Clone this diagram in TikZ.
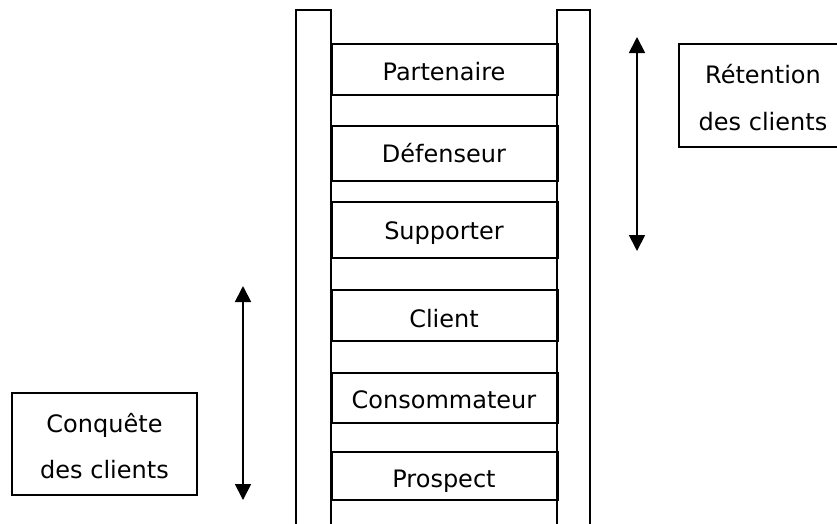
\documentclass[tikz,border=0pt]{standalone}
\usepackage{fontspec}
\setmainfont{DejaVu Sans}
\usetikzlibrary{arrows.meta}
\begin{document}
\begin{tikzpicture}[x=1pt,y=-1pt,line width=1.8pt,
  lbl/.style={font=\fontsize{24}{46}\selectfont,inner sep=0pt},
  rung/.style={draw,minimum width=226pt,inner sep=0pt,anchor=north west},
  txt/.style={lbl,anchor=base},
  sidebox/.style={lbl,align=center,anchor=base},
  dbl/.style={{Triangle[width=16pt,length=16pt]}-{Triangle[width=16pt,length=16pt]}}]
\useasboundingbox (0,0) rectangle (837,523);
% rails
\draw (296,530) -- (296,10) -- (331,10) -- (331,530);
\draw (557,530) -- (557,10) -- (590,10) -- (590,530);
% rungs
\node[rung,minimum height=51pt] (r1) at (331,43) {};
\node[rung,minimum height=55pt] (r2) at (331,125) {};
\node[rung,minimum height=56pt] (r3) at (331,201) {};
\node[rung,minimum height=51pt] (r4) at (331,289) {};
\node[rung,minimum height=50pt] (r5) at (331,372) {};
\node[rung,minimum height=48pt] (r6) at (331,451) {};
\node[txt] (partenaire) at (444,80) {Partenaire};
\node[txt] (defenseur) at (444,162) {Défenseur};
\node[txt] (supporter) at (444,239) {Supporter};
\node[txt] (client) at (444,327) {Client};
\node[txt] (consommateur) at (444,408) {Consommateur};
\node[txt] (prospect) at (444,487) {Prospect};
% retention box (clipped at right)
\node[sidebox] (retention) at (763,83) {Rétention};
\node[sidebox] (retention2) at (763,130) {des clients};
\draw (837,44) -- (679,44) -- (679,147) -- (837,147);
% conquete box
\draw (12,393) rectangle (197,495);
\node[sidebox] (conquete) at (104.5,432) {Conquête};
\node[sidebox] (conquete2) at (104.5,478) {des clients};
% arrows
\coordinate (rtop) at (637,37);
\coordinate (rbot) at (637,251);
\draw[dbl] (rtop) -- (rbot);
\coordinate (ltop) at (243,286);
\coordinate (lbot) at (243,500);
\draw[dbl] (ltop) -- (lbot);
\end{tikzpicture}
\end{document}
